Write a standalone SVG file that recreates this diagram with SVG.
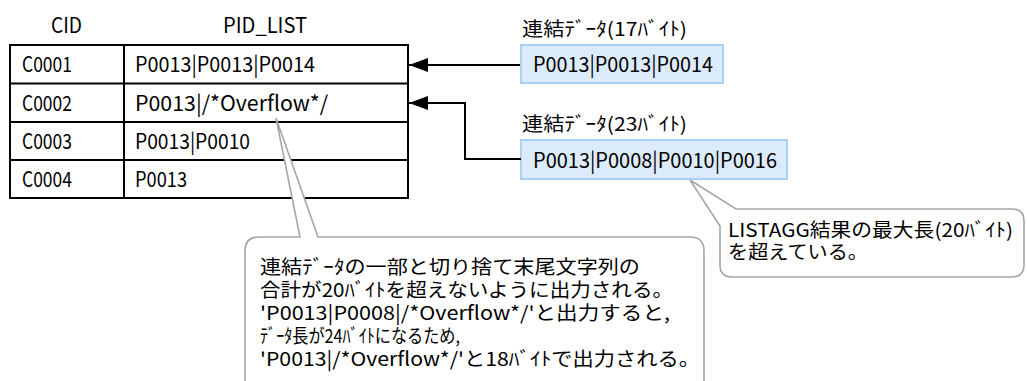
<svg xmlns="http://www.w3.org/2000/svg" width="1027" height="381" viewBox="0 0 1027 381">
<style>
text{font-family:"Noto Sans CJK JP","Noto Sans",sans-serif;font-size:19px;fill:#000}
.lt{font-size:21px}
.tb{fill:none;stroke:#000;stroke-width:2}
.blue{fill:#dcebfb;stroke:#a9cff2;stroke-width:2}
.call{fill:#fff;stroke:#a6a6a6;stroke-width:1.6}
.conn{fill:none;stroke:#000;stroke-width:2}
</style>
<defs>
<marker id="ah" markerUnits="userSpaceOnUse" markerWidth="20" markerHeight="14" refX="19" refY="7" orient="auto">
<path d="M0,0 L19,7 L0,14 Z" fill="#000"/>
</marker>
</defs>
<g id="table">
<text class="lt" x="51" y="33" textLength="31" lengthAdjust="spacingAndGlyphs">CID</text>
<text class="lt" x="223" y="33" textLength="84" lengthAdjust="spacingAndGlyphs">PID_LIST</text>
<rect class="tb" x="10" y="45" width="398" height="153"/>
<line class="tb" x1="10" y1="83.5" x2="408" y2="83.5"/>
<line class="tb" x1="10" y1="122" x2="408" y2="122"/>
<line class="tb" x1="10" y1="160" x2="408" y2="160"/>
<line class="tb" x1="124" y1="45" x2="124" y2="198"/>
<text class="lt" x="22" y="72" textLength="50" lengthAdjust="spacingAndGlyphs">C0001</text>
<text class="lt" x="22" y="111" textLength="50" lengthAdjust="spacingAndGlyphs">C0002</text>
<text class="lt" x="22" y="149" textLength="50" lengthAdjust="spacingAndGlyphs">C0003</text>
<text class="lt" x="22" y="187" textLength="50" lengthAdjust="spacingAndGlyphs">C0004</text>
<text class="lt" x="135" y="72" textLength="180" lengthAdjust="spacingAndGlyphs">P0013|P0013|P0014</text>
<text class="lt" x="135" y="111" textLength="193" lengthAdjust="spacingAndGlyphs">P0013|/*Overflow*/</text>
<text class="lt" x="135" y="149" textLength="115" lengthAdjust="spacingAndGlyphs">P0013|P0010</text>
<text class="lt" x="135" y="187" textLength="52" lengthAdjust="spacingAndGlyphs">P0013</text>
</g>
<g id="data1">
<text x="522" y="36" textLength="165" lengthAdjust="spacingAndGlyphs">連結ﾃﾞｰﾀ(17ﾊﾞｲﾄ)</text>
<rect class="blue" x="521" y="45" width="202" height="38"/>
<text class="lt" x="533" y="72" textLength="180" lengthAdjust="spacingAndGlyphs">P0013|P0013|P0014</text>
</g>
<g id="data2">
<text x="522" y="131" textLength="165" lengthAdjust="spacingAndGlyphs">連結ﾃﾞｰﾀ(23ﾊﾞｲﾄ)</text>
<rect class="blue" x="521" y="140" width="266" height="39"/>
<text class="lt" x="533" y="168" textLength="244" lengthAdjust="spacingAndGlyphs">P0013|P0008|P0010|P0016</text>
</g>
<g id="connectors">
<path class="conn" d="M520,65 L409,65" marker-end="url(#ah)"/>
<path class="conn" d="M521,159 L465,159 L465,103 L409,103" marker-end="url(#ah)"/>
</g>
<g id="callout1">
<path class="call" d="M259,237 L300,237 L276,118 L318,237 L690,237 Q704,237 704,251 L704,395 L245,395 L245,251 Q245,237 259,237 Z"/>
<text x="260" y="274" textLength="380" lengthAdjust="spacingAndGlyphs">連結ﾃﾞｰﾀの一部と切り捨て末尾文字列の</text>
<text x="260" y="297" textLength="413" lengthAdjust="spacingAndGlyphs">合計が20ﾊﾞｲﾄを超えないように出力される。</text>
<text x="260" y="320" textLength="410" lengthAdjust="spacingAndGlyphs">'P0013|P0008|/*Overflow*/'と出力すると,</text>
<text x="260" y="343" textLength="200" lengthAdjust="spacingAndGlyphs">ﾃﾞｰﾀ長が24ﾊﾞｲﾄになるため,</text>
<text x="260" y="366" textLength="440" lengthAdjust="spacingAndGlyphs">'P0013|/*Overflow*/'と18ﾊﾞｲﾄで出力される。</text>
</g>
<g id="callout2">
<path class="call" d="M736,209 L1012,209 Q1024,209 1024,221 L1024,265 Q1024,277 1012,277 L732,277 Q720,277 720,265 L720,226 L690,180 Z"/>
<text x="728" y="237" textLength="285" lengthAdjust="spacingAndGlyphs">LISTAGG結果の最大長(20ﾊﾞｲﾄ)</text>
<text x="728" y="259" textLength="140" lengthAdjust="spacingAndGlyphs">を超えている。</text>
</g>
</svg>
